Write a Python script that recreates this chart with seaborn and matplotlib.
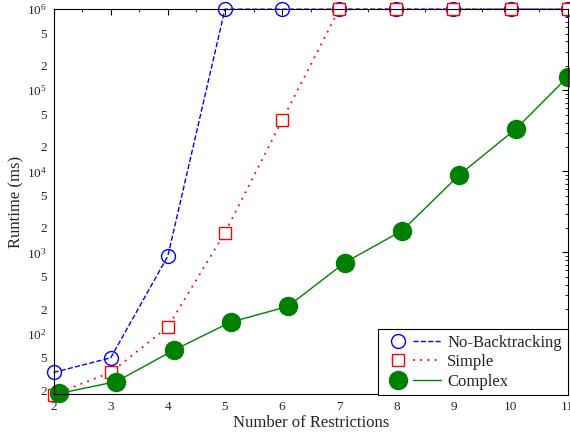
import matplotlib
matplotlib.use('Agg')
import matplotlib.pyplot as plt
import matplotlib.ticker as mticker
from matplotlib.lines import Line2D
from matplotlib.legend_handler import HandlerTuple
import seaborn as sns
import pandas as pd

restrictions = [2, 3, 4, 5, 6, 7, 8, 9, 10, 11]
no_backtracking = [33, 50, 900, 1e6, 1e6, 1e6, 1e6, 1e6, 1e6, 1e6]
simple = [17.6, 33, 120, 1750, 42500, 1e6, 1e6, 1e6, 1e6, 1e6]
complex_x = [2.1, 3.1, 4.1, 5.1, 6.1, 7.1, 8.1, 9.1, 10.1, 11.0]
complex_ms = [18.2, 25.5, 62, 138, 215, 750, 1850, 9000, 33700, 146000]

sns.set_theme(style='white')
plt.rcParams['font.family'] = ['Liberation Serif', 'DejaVu Serif']
plt.rcParams['mathtext.fontset'] = 'stix'

df_nb = pd.DataFrame({'x': restrictions, 'y': no_backtracking})
df_s = pd.DataFrame({'x': restrictions, 'y': simple})
df_c = pd.DataFrame({'x': complex_x, 'y': complex_ms})

fig = plt.figure(figsize=(5.7, 4.38), dpi=100)
ax = fig.add_axes([0.094, 0.1, 0.902, 0.879])

sns.lineplot(data=df_nb, x='x', y='y', ax=ax, color='#0000ff', linestyle='--',
             linewidth=1.0, marker='o', markersize=10, markerfacecolor='none',
             markeredgecolor='#0000ff', markeredgewidth=1.0, clip_on=False)
sns.lineplot(data=df_s, x='x', y='y', ax=ax, color='#ff0000', dashes=(1, 3),
             linewidth=1.3, marker='s', markersize=9, markerfacecolor='white',
             markeredgecolor='#ff0000', markeredgewidth=1.0, clip_on=False)
sns.lineplot(data=df_c, x='x', y='y', ax=ax, color='#008000', linestyle='-',
             linewidth=1.0, marker='o', markersize=13, markerfacecolor='#008000',
             markeredgecolor='#008000', markeredgewidth=1.0, clip_on=False)

ax.set_yscale('log')
ax.set_xlim(2, 11)
ax.set_ylim(17.8, 1e6)

ax.xaxis.set_major_locator(mticker.MultipleLocator(1))
ax.xaxis.set_minor_locator(mticker.MultipleLocator(0.5))
ax.yaxis.set_major_locator(mticker.FixedLocator([1e2, 1e3, 1e4, 1e5, 1e6]))
ax.yaxis.set_major_formatter(mticker.LogFormatterSciNotation())
minor_vals = [k * 10 ** d for d in range(1, 6) for k in range(2, 10)]
ax.yaxis.set_minor_locator(mticker.FixedLocator(minor_vals))


def minor_label(v, pos):
    lead = round(v / 10 ** int(f'{v:e}'.split('e')[1]))
    return str(lead) if lead in (2, 5) else ''


ax.yaxis.set_minor_formatter(mticker.FuncFormatter(minor_label))

ax.tick_params(which='both', direction='in', top=True, right=True,
               labelsize=9.5, pad=5, color='black')
ax.tick_params(which='major', length=4, width=0.8)
ax.tick_params(which='minor', length=2.5, width=0.6)
for s in ax.spines.values():
    s.set_color('black')
    s.set_linewidth(0.8)

ax.set_xlabel('Number of Restrictions', fontsize=12, labelpad=1)
ax.set_ylabel('Runtime (ms)', fontsize=12, labelpad=2)

h_nb = (Line2D([], [], ls='none', marker='o', ms=10, mfc='none', mec='#0000ff'),
        Line2D([], [], ls='--', color='#0000ff', lw=1.0))
h_s = (Line2D([], [], ls='none', marker='s', ms=9, mfc='none', mec='#ff0000'),
       Line2D([], [], ls=(0, (1, 3)), color='#ff0000', lw=1.3))
h_c = (Line2D([], [], ls='none', marker='o', ms=13, mfc='#008000', mec='#008000'),
       Line2D([], [], ls='-', color='#008000', lw=1.0))
leg = ax.legend([h_nb, h_s, h_c], ['No-Backtracking', 'Simple', 'Complex'],
                handler_map={tuple: HandlerTuple(ndivide=None, pad=0.1)},
                loc='lower right', bbox_to_anchor=(1.0, -0.003), borderaxespad=0,
                fontsize=12, handlelength=3.4, labelspacing=0.2,
                borderpad=0.35, handletextpad=0.4, fancybox=False,
                framealpha=1, edgecolor='black')
leg.get_frame().set_linewidth(0.8)

fig.savefig('out.png', dpi=100, facecolor='white')
plt.close(fig)
